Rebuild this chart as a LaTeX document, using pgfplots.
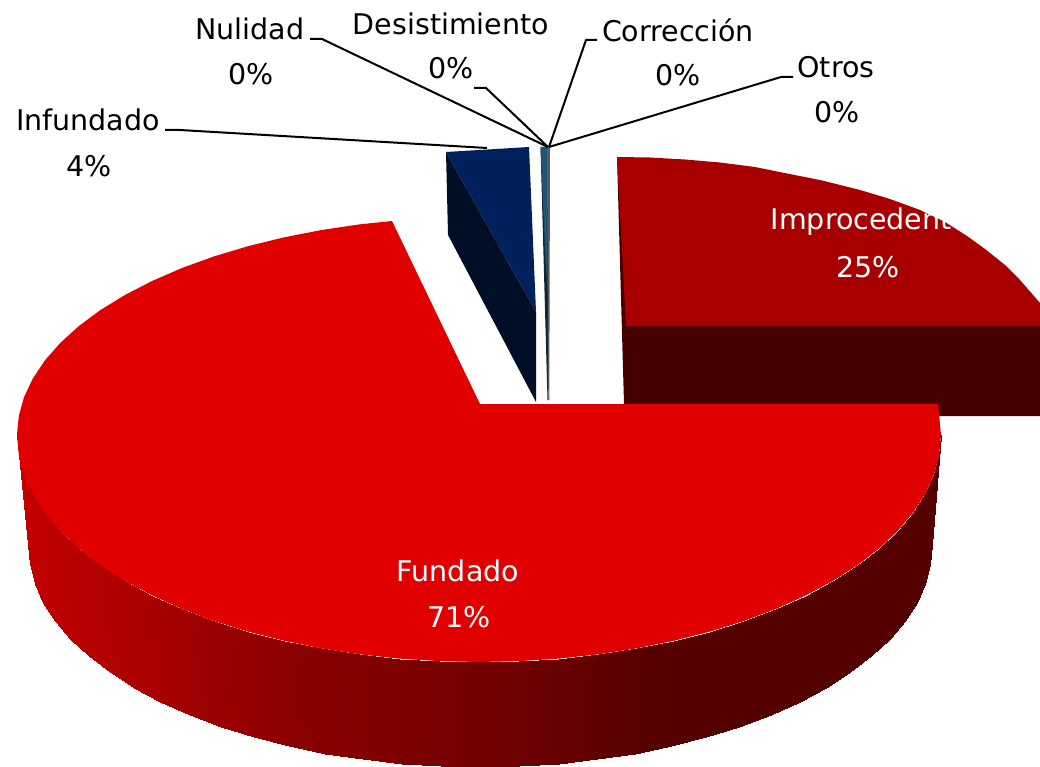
\documentclass[border=0pt]{standalone}
\usepackage{fontspec}
\setmainfont{DejaVu Sans}
\usepackage{pgfplots}
\pgfplotsset{compat=1.18}
\definecolor{fundtop}{RGB}{224,0,0}
\definecolor{imptop}{RGB}{168,0,0}
\definecolor{impside}{RGB}{70,0,0}
\definecolor{inftop}{RGB}{0,32,91}
\definecolor{infside}{RGB}{0,15,38}
\definecolor{thintop}{RGB}{31,85,115}
\definecolor{thinside}{RGB}{14,38,52}
\definecolor{thingray}{RGB}{90,90,90}
\tikzset{
  lab/.style={font=\fontsize{28.5}{34}\selectfont, inner sep=0pt, anchor=center},
  leader/.style={black, line width=2pt, line join=round},
}
\begin{document}
\begin{tikzpicture}
\begin{axis}[
    width=1040pt, height=767pt, scale only axis,
    xmin=0, xmax=1040, ymin=0, ymax=767, y dir=reverse,
    hide axis, no markers,
    colormap={redramp}{rgb255=(0,0,0) rgb255=(255,0,0)},
    point meta min=0, point meta max=255,
]
% keeps the page at the full frame
\addplot[draw=none] coordinates {(0,0) (1040,767)};
% Improcedente 25%
\addplot[fill=impside, draw=none] coordinates {(617,157) (1040,326) (1040,416) (940,416) (700,404) (624,404)} --cycle;
\addplot[fill=imptop, draw=none] coordinates {
  (617,157) (650,157.5) (685,159.5) (720,162.5) (755,167) (787,173.5) (820,180) (860,190)
  (890,199) (920,210) (945,222) (967,236) (985,249) (1005,265) (1020,280) (1040,303)
  (1040,326) (626,326)} --cycle;
% Fundado 71%, side wall then top
\addplot[surf, shader=interp, mesh/cols=37, point meta=explicit]
  table[x=x, y=y, meta=c] {
x y c
941 435 85
939.2 454.8 85
934 474.4 85
925.2 493.7 85
913.1 512.6 85
897.7 530.9 85
879.1 548.5 85
857.5 565.2 85
832.9 580.9 85
805.7 595.5 85
776 608.9 85
744 621 85
710 631.6 85
674.2 640.7 85
637 648.3 88
598.6 654.3 95
559.2 658.6 103
519.3 661.1 110
479 662 115
438.7 661.1 120
398.8 658.6 125
359.4 654.3 130
321 648.3 134
283.8 640.7 140
248 631.6 147
214 621 153
182 608.9 160
152.3 595.5 167
125.1 580.9 173
100.5 565.2 178
78.9 548.5 182
60.3 530.9 185
44.9 512.6 188
32.8 493.7 191
24 474.4 193
18.8 454.8 195
17 435 196
932 545 85
930.3 564.4 85
925.1 583.5 85
916.6 602.5 85
904.7 620.9 85
889.7 638.8 85
871.4 656 85
850.3 672.3 85
826.2 687.7 85
799.6 702 85
770.5 715.1 85
739.3 726.9 85
706 737.3 85
671 746.2 85
634.6 753.6 88
597 759.4 95
558.5 763.6 103
519.4 766.2 110
480 767 115
440.6 766.2 120
401.5 763.6 125
363 759.4 130
325.4 753.6 134
289 746.2 140
254 737.3 147
220.7 726.9 153
189.5 715.1 160
160.4 702 167
133.8 687.7 173
109.7 672.3 178
88.6 656 182
70.3 638.8 185
55.3 620.9 188
43.4 602.5 191
34.9 583.5 193
29.7 564.4 195
28 545 196
};
\addplot[fill=fundtop, draw=none] coordinates {
  (480,404) (938,404) (939.2,416) (941,435) (939.2,454.8) (934,474.4) (925.2,493.7)
  (913.1,512.6) (897.7,530.9) (879.1,548.5) (857.5,565.2) (832.9,580.9) (805.7,595.5)
  (776,608.9) (744,621) (710,631.6) (674.2,640.7) (637,648.3) (598.6,654.3) (559.2,658.6)
  (519.3,661.1) (479,662) (438.7,661.1) (398.8,658.6) (359.4,654.3) (321,648.3)
  (283.8,640.7) (248,631.6) (214,621) (182,608.9) (152.3,595.5) (125.1,580.9) (100.5,565.2)
  (78.9,548.5) (60.3,530.9) (44.9,512.6) (32.8,493.7) (24,474.4) (18.8,454.8) (17,435)
  (18.8,416) (24,397.2) (32.8,378.6) (44.9,360.4) (60.3,342.9) (78.9,326) (100.5,310)
  (125.1,294.9) (152.3,280.9) (182,268) (214,256.4) (248,246.2) (283.8,237.4) (321,230.1)
  (359.4,224.4) (392,221)} --cycle;
% Infundado 4%
\addplot[fill=infside, draw=none] coordinates {(446,152) (536,312) (536,402) (448,235)} --cycle;
\addplot[fill=inftop, draw=none] coordinates {(446,152) (529,147) (536,312)} --cycle;
% the four slices at 0%
\addplot[fill=thinside, draw=none] coordinates {(540.5,147) (547.5,147) (548.5,400) (547.5,400)} --cycle;
\addplot[fill=thintop, draw=none] coordinates {(540.5,147) (547,147) (547.5,290) (545,250)} --cycle;
\addplot[fill=thingray, draw=none] coordinates {(547,147) (550,147) (549.3,400) (548.3,400)} --cycle;
% leader lines
\addplot[leader] coordinates {(165,130) (180,130) (487,148)};
\addplot[leader] coordinates {(310,39) (322,39) (548,147)};
\addplot[leader] coordinates {(474,88) (486,88) (548,147)};
\addplot[leader] coordinates {(597,40) (586,40) (549,147)};
\addplot[leader] coordinates {(793,77) (781,77) (549,147)};
% labels
\node[lab] at (axis cs:88,120) {Infundado};
\node[lab] at (axis cs:89,166) {4\%};
\node[lab] at (axis cs:250,29) {Nulidad};
\node[lab] at (axis cs:251,74) {0\%};
\node[lab] at (axis cs:451,24) {Desistimiento};
\node[lab] at (axis cs:451,68) {0\%};
\node[lab] at (axis cs:678,30) {Corrección};
\node[lab] at (axis cs:678,75) {0\%};
\node[lab] at (axis cs:836,67) {Otros};
\node[lab] at (axis cs:837,112) {0\%};
\node[lab, white] at (axis cs:870,222) {Improcedente};
\node[lab, white] at (axis cs:868,267) {25\%};
\node[lab, white] at (axis cs:458,571) {Fundado};
\node[lab, white] at (axis cs:459,617) {71\%};
\end{axis}
\end{tikzpicture}
\end{document}
